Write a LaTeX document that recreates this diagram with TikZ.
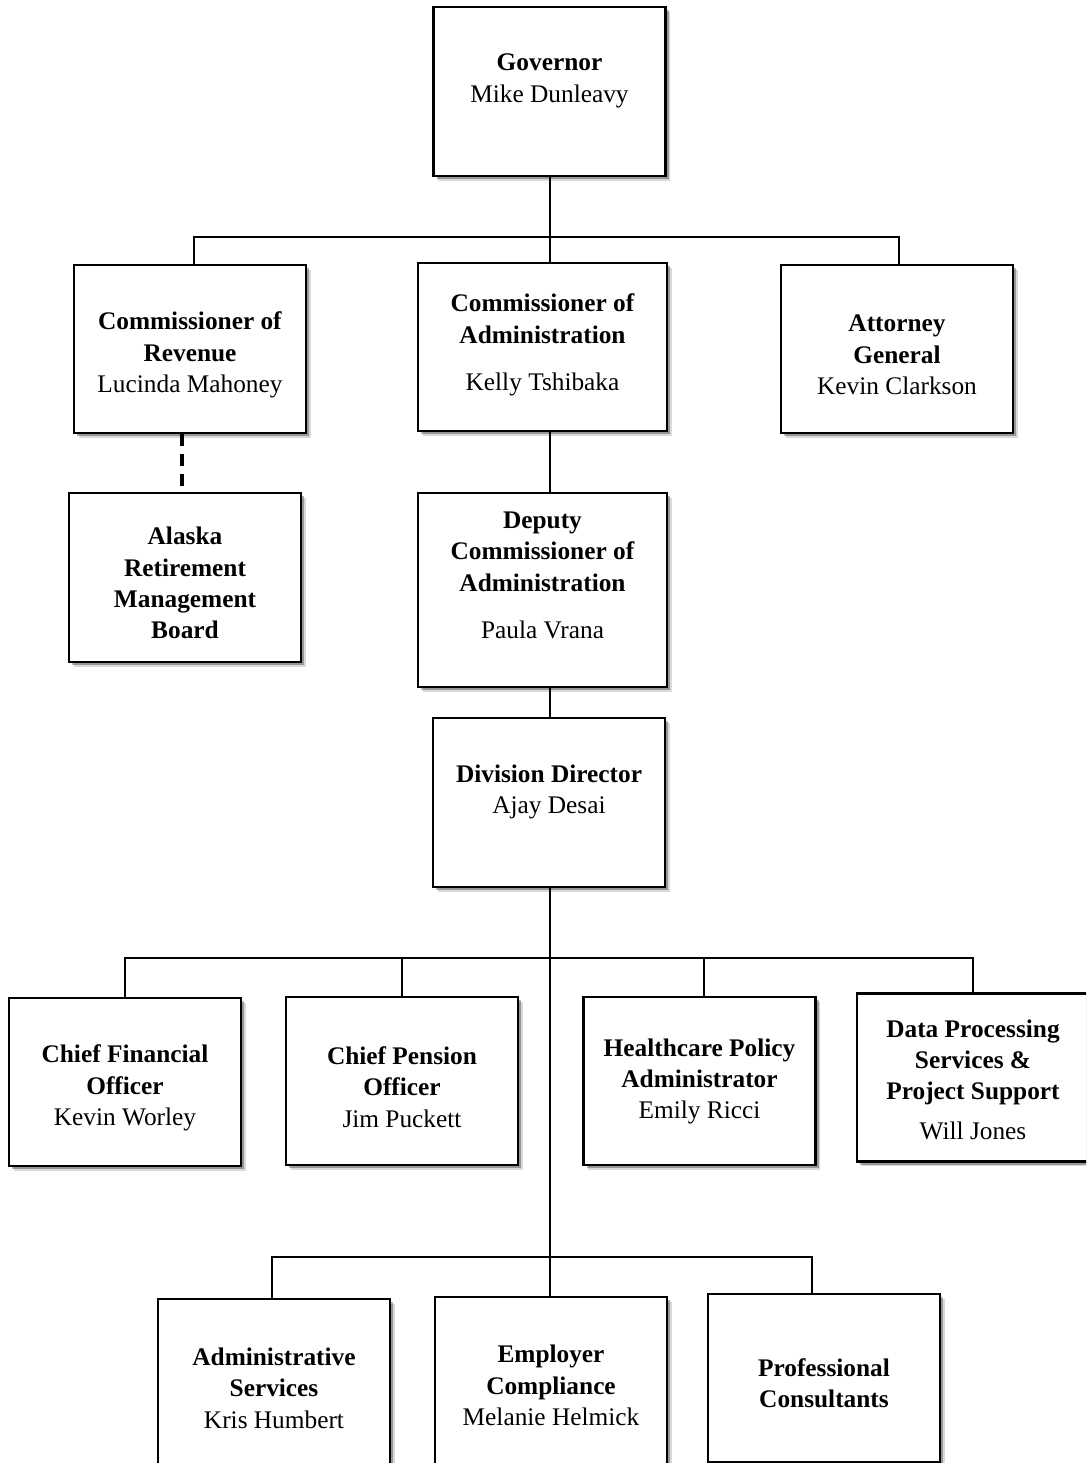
\documentclass[tikz,border=0pt]{standalone}
\usepackage{fontspec}
\setmainfont{Liberation Serif}
\usepackage{tikz}
\usetikzlibrary{positioning,shadows}
\tikzset{
  box/.style={draw, line width=1.9pt, fill=white, minimum width=174pt, minimum height=126pt,
              drop shadow={shadow xshift=3.6pt, shadow yshift=-3.6pt, fill=black, opacity=0.15},
              drop shadow={shadow xshift=2.4pt, shadow yshift=-2.4pt, fill=black, opacity=0.3}},
  widebox/.style={box, minimum width=186.75pt},
  txt/.style={align=center, font=\fontsize{19}{23.5}\selectfont, inner sep=0pt},
  link/.style={line width=1.9pt},
  dotted link/.style={line width=2.6pt, dash pattern=on 9pt off 6pt}, % dashed report line
}

\begin{document}
\begin{tikzpicture}[x=0.75pt, y=-0.75pt]
  \useasboundingbox (0,0) rectangle (1086,1463);
  \clip (0,0) rectangle (1086,1463);

  % boxes
  \node[box, minimum height=126.75pt] (gov) at (549.5,91.5) {};
  \node[box] (rev) at (190,349) {};
  \node[widebox] (adm) at (542.5,347) {};
  \node[box] (att) at (897,349) {};
  \node[box, minimum height=126.75pt] (armb) at (185,577.5) {};
  \node[widebox, minimum height=145.5pt] (dep) at (542.5,590) {};
  \node[box, minimum height=126.75pt] (div) at (549,802.5) {};
  \node[box] (cfo) at (125,1082) {};
  \node[box] (cpo) at (402,1081) {};
  \node[box] (hpa) at (699.5,1081) {};
  \node[box] (dps) at (973,1077.5) {};
  \node[box] (asv) at (274,1383) {};
  \node[box] (emp) at (551,1381) {};
  \node[box] (pro) at (824,1378) {};

  % texts
  \node[txt] (govtxt) at (549.5,81) {\textbf{Governor}\\Mike Dunleavy};
  \node[txt] (revtxt) at (190,355) {\textbf{Commissioner of}\\\textbf{Revenue}\\Lucinda Mahoney};
  \node[txt] (admtxt) at (542.5,345) {\textbf{Commissioner of}\\\textbf{Administration}\\[12pt]Kelly Tshibaka};
  \node[txt] (atttxt) at (897,355) {\textbf{Attorney}\\\textbf{General}\\Kevin Clarkson};
  \node[txt] (armbtxt) at (185,583) {\textbf{Alaska}\\\textbf{Retirement}\\\textbf{Management}\\\textbf{Board}};
  \node[txt] (deptxt) at (542.5,575.5) {\textbf{Deputy}\\\textbf{Commissioner of}\\\textbf{Administration}\\[12pt]Paula Vrana};
  \node[txt] (divtxt) at (549,792) {\textbf{Division Director}\\Ajay Desai};
  \node[txt] (cfotxt) at (125,1088) {\textbf{Chief Financial}\\\textbf{Officer}\\Kevin Worley};
  \node[txt] (cpotxt) at (402,1087) {\textbf{Chief Pension}\\\textbf{Officer}\\Jim Puckett};
  \node[txt] (hpatxt) at (699.5,1081.5) {\textbf{Healthcare Policy}\\\textbf{Administrator}\\Emily Ricci};
  \node[txt] (dpstxt) at (973,1079.5) {\textbf{Data Processing}\\\textbf{Services \&}\\\textbf{Project Support}\\[6pt]Will Jones};
  \node[txt] (asvtxt) at (274,1388) {\textbf{Administrative}\\\textbf{Services}\\Kris Humbert};
  \node[txt] (emptxt) at (551,1385.5) {\textbf{Employer}\\\textbf{Compliance}\\Melanie Helmick};
  \node[txt] (protxt) at (824,1383.5) {\textbf{Professional}\\\textbf{Consultants}};

  % connectors
  \coordinate (bar1) at (550,237);
  \coordinate (bar2) at (550,958);
  \coordinate (bar3) at (550,1257);

  \draw[link] (bar1 |- gov.south) -- (bar1 |- adm.north);
  \draw[link] ([xshift=3pt]rev.north) |- (bar1) -| ([xshift=1.5pt]att.north);
  \draw[dotted link] ([xshift=-2.25pt]armb.north |- rev.south) -- ([xshift=-2.25pt]armb.north);
  \draw[link] (bar1 |- adm.south) -- (bar1 |- dep.north);
  \draw[link] (bar1 |- dep.south) -- (bar1 |- div.north);
  \draw[link] (bar1 |- div.south) -- (bar1 |- emp.north);
  \draw[link] (cfo.north) |- (bar2) -| (dps.north);
  \draw[link] (cpo.north) -- (cpo.north |- bar2);
  \draw[link] ([xshift=3.4pt]hpa.north) -- ([xshift=3.4pt]hpa.north |- bar2);
  \draw[link] ([xshift=-1.5pt]asv.north) |- (bar3) -| ([xshift=-9pt]pro.north);
\end{tikzpicture}
\end{document}
